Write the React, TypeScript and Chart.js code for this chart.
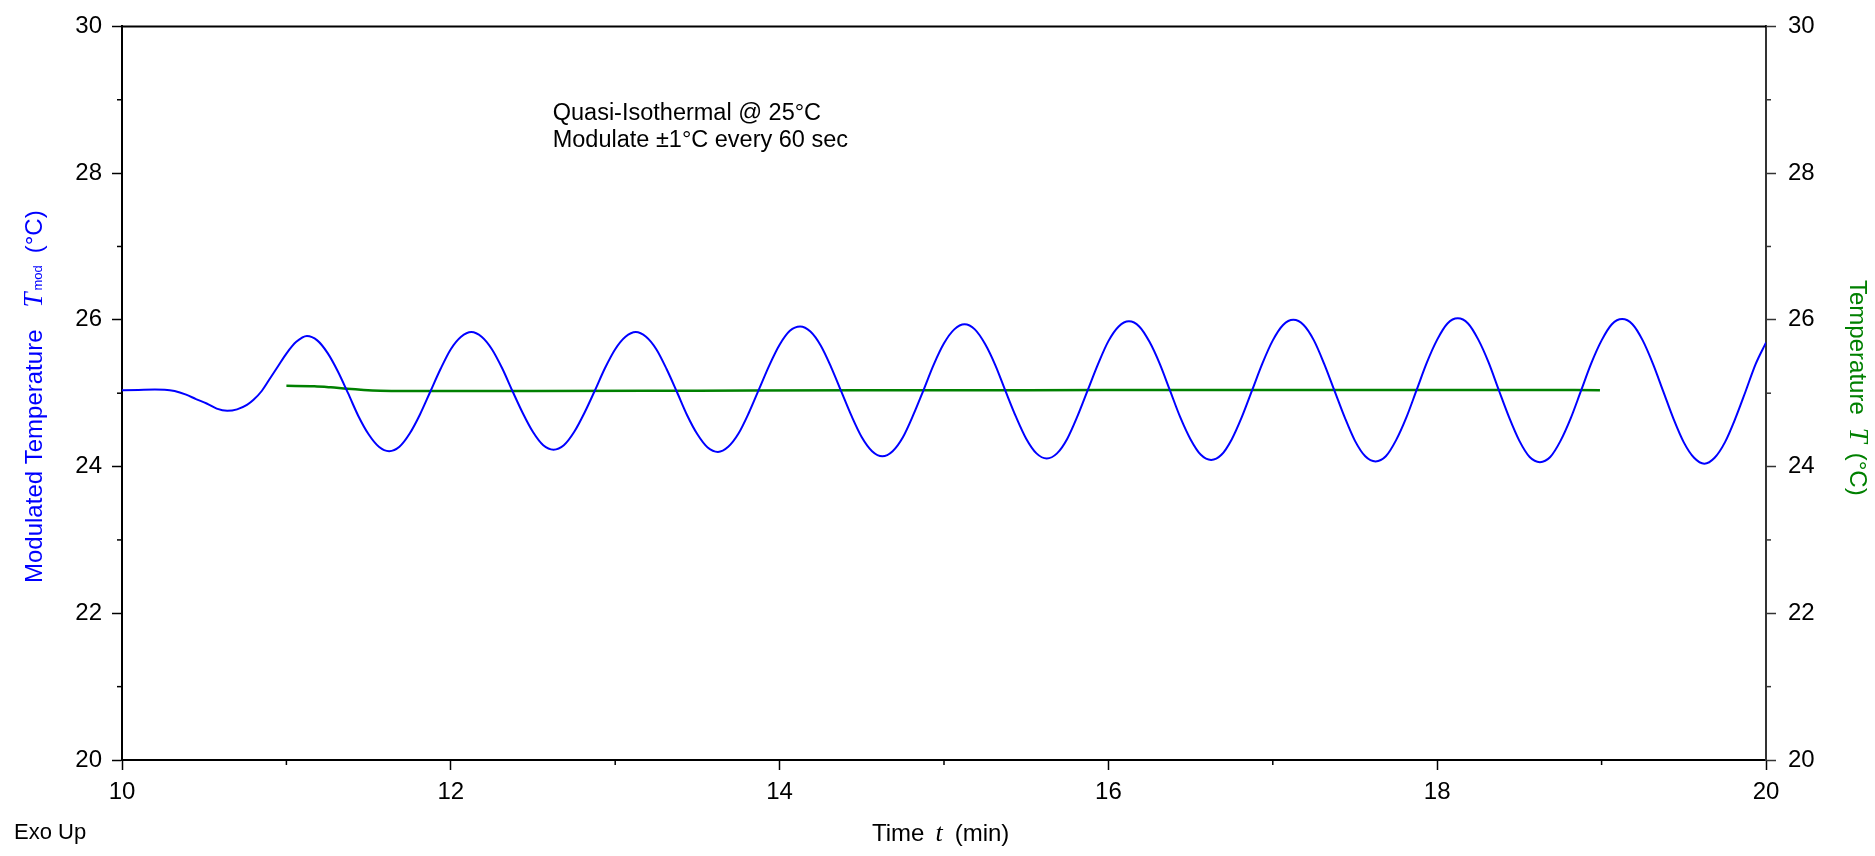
import React, { useEffect, useRef } from "react";
import { Chart, registerables } from "chart.js";

Chart.register(...registerables);

// ---- Data ----
// Modulated temperature (left axis), time in minutes
const modTime = [
  10.0, 10.1, 10.2, 10.26, 10.32, 10.39, 10.45, 10.515, 10.576, 10.64, 10.7, 10.76, 10.8, 10.85, 10.9, 10.95, 11.0, 11.06, 11.125,
  11.1875, 11.25, 11.3125, 11.375, 11.4375, 11.5, 11.5625, 11.625,
  11.6875, 11.75, 11.8125, 11.875, 11.9375, 12.0, 12.0625, 12.125,
  12.1875, 12.25, 12.3125, 12.375, 12.4375, 12.5, 12.5625, 12.625,
  12.6875, 12.75, 12.8125, 12.875, 12.9375, 13.0, 13.0625, 13.125,
  13.1875, 13.25, 13.3125, 13.375, 13.4375, 13.5, 13.5625, 13.625,
  13.6875, 13.75, 13.8125, 13.875, 13.9375, 14.0, 14.0625, 14.125,
  14.1875, 14.25, 14.3125, 14.375, 14.4375, 14.5, 14.5625, 14.625,
  14.6875, 14.75, 14.8125, 14.875, 14.9375, 15.0, 15.0625, 15.125,
  15.1875, 15.25, 15.3125, 15.375, 15.4375, 15.5, 15.5625, 15.625,
  15.6875, 15.75, 15.8125, 15.875, 15.9375, 16.0, 16.0625, 16.125,
  16.1875, 16.25, 16.3125, 16.375, 16.4375, 16.5, 16.5625, 16.625,
  16.6875, 16.75, 16.8125, 16.875, 16.9375, 17.0, 17.0625, 17.125,
  17.1875, 17.25, 17.3125, 17.375, 17.4375, 17.5, 17.5625, 17.625,
  17.6875, 17.75, 17.8125, 17.875, 17.9375, 18.0, 18.0625, 18.125,
  18.1875, 18.25, 18.3125, 18.375, 18.4375, 18.5, 18.5625, 18.625,
  18.6875, 18.75, 18.8125, 18.875, 18.9375, 19.0, 19.0625, 19.125,
  19.1875, 19.25, 19.3125, 19.375, 19.4375, 19.5, 19.5625, 19.625,
  19.6875, 19.75, 19.8125, 19.875, 19.9375, 20.0,
];
const modTemp = [
  25.04, 25.045, 25.05, 25.048, 25.03, 24.98, 24.92, 24.86, 24.79, 24.76, 24.78, 24.84, 24.91, 25.03, 25.2, 25.37, 25.54, 25.7, 25.78,
  25.72, 25.55, 25.3, 25.0, 24.69, 24.44, 24.27, 24.21,
  24.27, 24.45, 24.71, 25.02, 25.33, 25.6, 25.77, 25.835,
  25.77, 25.6, 25.34, 25.03, 24.73, 24.47, 24.29, 24.23,
  24.29, 24.47, 24.73, 25.03, 25.34, 25.6, 25.77, 25.835,
  25.77, 25.6, 25.33, 25.02, 24.7, 24.44, 24.26, 24.2,
  24.27, 24.45, 24.73, 25.055, 25.38, 25.66, 25.85, 25.91,
  25.84, 25.65, 25.36, 25.025, 24.69, 24.4, 24.21, 24.14,
  24.21, 24.4, 24.7, 25.04, 25.39, 25.68, 25.87, 25.94,
  25.87, 25.67, 25.38, 25.025, 24.68, 24.38, 24.18, 24.11,
  24.18, 24.38, 24.69, 25.045, 25.4, 25.71, 25.91, 25.98,
  25.91, 25.7, 25.4, 25.035, 24.67, 24.37, 24.16, 24.09,
  24.16, 24.37, 24.68, 25.045, 25.41, 25.72, 25.93, 26.0,
  25.93, 25.72, 25.4, 25.035, 24.67, 24.35, 24.14, 24.07,
  24.14, 24.36, 24.67, 25.045, 25.42, 25.73, 25.95, 26.02,
  25.95, 25.73, 25.42, 25.04, 24.67, 24.35, 24.13, 24.06,
  24.13, 24.35, 24.66, 25.035, 25.41, 25.72, 25.94, 26.01,
  25.94, 25.72, 25.4, 25.025, 24.65, 24.33, 24.12, 24.04,
  24.12, 24.33, 24.65, 25.02, 25.4, 25.69,
];
// Temperature (right axis)
const tempTime = [11.0, 11.17, 11.27, 11.37, 11.47, 11.57, 11.7, 12.5, 13.5, 14.5, 15.5, 16.5, 17.5, 18.5, 18.99];
const tempValue = [25.1, 25.095, 25.08, 25.06, 25.045, 25.035, 25.03, 25.03, 25.035, 25.04, 25.04, 25.045, 25.045, 25.045, 25.04];

const xMajorTicks = [10, 12, 14, 16, 18, 20];
const xMinorTicks = [11, 13, 15, 17, 19];
const yMajorTicks = [20, 22, 24, 26, 28, 30];
const yMinorTicks = [21, 23, 25, 27, 29];

const annotationLines = ["Quasi-Isothermal @ 25°C", "Modulate ±1°C every 60 sec"];
const leftTitle = ["Modulated Temperature", "T", "mod", "(°C)"];
const rightTitle = ["Temperature", "T", "(°C)"];
const bottomTitle = ["Time", "t", "(min)"];
const cornerNote = "Exo Up";

const SANS = '"Liberation Sans", Arial, Helvetica, sans-serif';
const SERIF = '"Liberation Serif", "Times New Roman", serif';

type Piece = { text: string; font: string; gap: number };

function drawPieces(ctx: CanvasRenderingContext2D, pieces: Piece[]) {
  let x = 0;
  for (const p of pieces) {
    x += p.gap;
    ctx.font = p.font;
    ctx.fillText(p.text, x, 0);
    x += ctx.measureText(p.text).width;
  }
}

const decorPlugin = {
  id: "decor",
  afterDraw(chart: any) {
    const { ctx, chartArea, scales } = chart;
    const xs = scales.x;
    const ys = scales.y;
    const ys2 = scales.y2;
    ctx.save();
    // top frame line
    ctx.strokeStyle = "#000";
    ctx.lineWidth = 2;
    ctx.beginPath();
    ctx.moveTo(chartArea.left, chartArea.top);
    ctx.lineTo(chartArea.right, chartArea.top);
    ctx.stroke();
    // minor ticks
    ctx.lineWidth = 1.5;
    for (const v of yMinorTicks) {
      const py = ys.getPixelForValue(v);
      ctx.beginPath();
      ctx.moveTo(chartArea.left - 5, py);
      ctx.lineTo(chartArea.left, py);
      ctx.stroke();
      const py2 = ys2.getPixelForValue(v);
      ctx.strokeStyle = "#333";
      ctx.beginPath();
      ctx.moveTo(chartArea.right, py2);
      ctx.lineTo(chartArea.right + 5, py2);
      ctx.stroke();
      ctx.strokeStyle = "#000";
    }
    for (const v of xMinorTicks) {
      const px = xs.getPixelForValue(v);
      ctx.beginPath();
      ctx.moveTo(px, chartArea.bottom);
      ctx.lineTo(px, chartArea.bottom + 5);
      ctx.stroke();
    }

    // annotation text
    ctx.fillStyle = "#000";
    ctx.textAlign = "left";
    ctx.textBaseline = "alphabetic";
    ctx.font = `23.5px ${SANS}`;
    const ax = xs.getPixelForValue(12.62);
    ctx.fillText(annotationLines[0], ax, ys.getPixelForValue(28.73));
    ctx.fillText(annotationLines[1], ax, ys.getPixelForValue(28.36));

    // corner note
    ctx.font = `22px ${SANS}`;
    ctx.fillText(cornerNote, 14, 839);

    // bottom title
    ctx.save();
    ctx.translate(872, 841);
    drawPieces(ctx, [
      { text: bottomTitle[0], font: `24px ${SANS}`, gap: 0 },
      { text: bottomTitle[1], font: `italic 26px ${SERIF}`, gap: 11 },
      { text: bottomTitle[2], font: `24px ${SANS}`, gap: 12 },
    ]);
    ctx.restore();

    // left title (blue)
    ctx.save();
    ctx.fillStyle = "#0000ff";
    ctx.translate(42, 583);
    ctx.rotate(-Math.PI / 2);
    drawPieces(ctx, [
      { text: leftTitle[0], font: `24px ${SANS}`, gap: 0 },
      { text: leftTitle[1], font: `italic 27px ${SERIF}`, gap: 22 },
      { text: leftTitle[2], font: `13px ${SANS}`, gap: 2 },
      { text: leftTitle[3], font: `24px ${SANS}`, gap: 12 },
    ]);
    ctx.restore();

    // right title (green)
    ctx.save();
    ctx.fillStyle = "#008000";
    ctx.translate(1850, 280);
    ctx.rotate(Math.PI / 2);
    drawPieces(ctx, [
      { text: rightTitle[0], font: `24px ${SANS}`, gap: 0 },
      { text: rightTitle[1], font: `italic 27px ${SERIF}`, gap: 13 },
      { text: rightTitle[2], font: `24px ${SANS}`, gap: 10 },
    ]);
    ctx.restore();

    ctx.restore();
  },
};

export default function App() {
  const canvasRef = useRef<HTMLCanvasElement | null>(null);

  useEffect(() => {
    if (!canvasRef.current) return;
    const modData = modTime.map((t, i) => ({ x: t, y: modTemp[i] }));
    const tData = tempTime.map((t, i) => ({ x: t, y: tempValue[i] }));

    const tickFont = { family: SANS, size: 24 };

    const chart = new Chart(canvasRef.current, {
      type: "line",
      data: {
        datasets: [
          {
            label: "Modulated Temperature",
            data: modData,
            borderColor: "#0000ff",
            borderWidth: 2,
            pointRadius: 0,
            cubicInterpolationMode: "monotone",
            yAxisID: "y",
          },
          {
            label: "Temperature",
            data: tData,
            borderColor: "#008000",
            borderWidth: 2.5,
            pointRadius: 0,
            cubicInterpolationMode: "monotone",
            yAxisID: "y2",
          },
        ],
      },
      options: {
        animation: false,
        responsive: true,
        maintainAspectRatio: false,
        layout: { padding: { top: 26, left: 0, right: 0, bottom: 0 } },
        plugins: {
          legend: { display: false },
          tooltip: { enabled: false },
        },
        scales: {
          x: {
            type: "linear",
            position: "bottom",
            min: 10,
            max: 20,
            afterBuildTicks: (s: any) => {
              s.ticks = xMajorTicks.map((v) => ({ value: v }));
            },
            ticks: {
              font: tickFont,
              color: "#000",
              padding: 8,
              autoSkip: false,
              maxRotation: 0,
            },
            grid: {
              drawOnChartArea: false,
              drawTicks: true,
              tickLength: 10,
              tickColor: "#000",
              tickWidth: 1.5,
            },
            border: { display: true, color: "#000", width: 2 },
            afterFit: (s: any) => {
              s.height = 96;
            },
          },
          y: {
            type: "linear",
            position: "left",
            min: 20,
            max: 30,
            afterBuildTicks: (s: any) => {
              s.ticks = yMajorTicks.map((v) => ({ value: v }));
            },
            ticks: { font: tickFont, color: "#000", padding: 10 },
            grid: {
              drawOnChartArea: false,
              drawTicks: true,
              tickLength: 10,
              tickColor: "#000",
              tickWidth: 1.5,
            },
            border: { display: true, color: "#000", width: 2 },
            afterFit: (s: any) => {
              s.width = 122;
            },
          },
          y2: {
            type: "linear",
            position: "right",
            min: 20,
            max: 30,
            afterBuildTicks: (s: any) => {
              s.ticks = yMajorTicks.map((v) => ({ value: v }));
            },
            ticks: { font: tickFont, color: "#000", padding: 12 },
            grid: {
              drawOnChartArea: false,
              drawTicks: true,
              tickLength: 10,
              tickColor: "#333",
              tickWidth: 1.5,
            },
            border: { display: true, color: "#333", width: 2 },
            afterFit: (s: any) => {
              s.width = 109;
            },
          },
        },
      },
      plugins: [decorPlugin],
    } as any);

    return () => chart.destroy();
  }, []);

  return (
    <div style={{ position: "fixed", left: 0, top: 0, width: 1875, height: 856, background: "#fff" }}>
      <canvas ref={canvasRef} />
    </div>
  );
}
